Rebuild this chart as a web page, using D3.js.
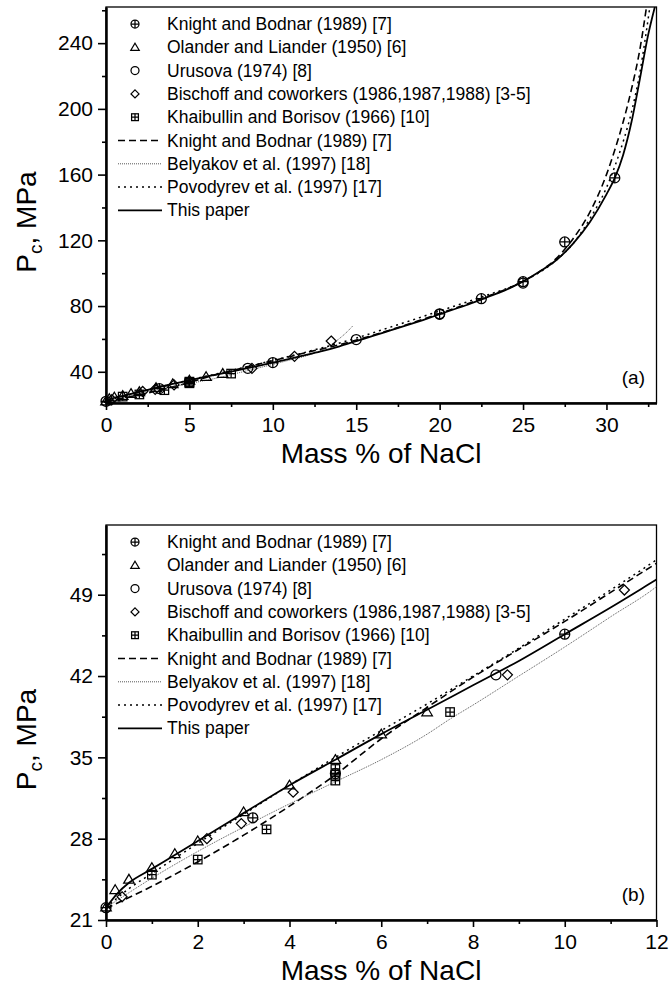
<!DOCTYPE html>
<html>
<head>
<meta charset="utf-8">
<script src="https://cdn.jsdelivr.net/npm/d3@7"></script>
<style>
  body { margin: 0; background: #fff; }
  text { font-family: "Liberation Sans", Arial, sans-serif; fill: #000; }
</style>
</head>
<body>
<div class="chart"></div>
<script>
// ---- measured points: [mass % NaCl, Pc MPa]
var knightPts     = [[0, 22.06], [3.2, 29.8], [5, 33.6], [10, 45.6], [20, 75.3], [22.5, 84.5], [25, 94.8], [27.5, 119], [30.5, 158]];
var olanderPts    = [[0, 22.1], [0.2, 23.6], [0.5, 24.5], [1, 25.5], [1.5, 26.7], [2, 27.8], [3, 30.3], [4, 32.6], [5, 34.8], [6, 37.0], [7, 38.9]];
var urusovaPts    = [[8.5, 42.1], [15, 59.6], [20, 75], [25, 94]];
var bischoffPts   = [[0.35, 23.0], [2.2, 28.0], [2.95, 29.3], [4.08, 32.0], [8.75, 42.1], [11.3, 49.4], [13.5, 58.7]];
var khaibullinPts = [[1, 24.9], [2, 26.2], [3.5, 28.8], [5, 33.0], [5, 33.5], [5, 34.0], [7.5, 38.9]];

// ---- model curves
var knightCurve = [[0, 22.0], [1, 23.9], [2, 26.0], [3, 28.3], [4, 30.8], [5, 33.5], [6, 36.6], [7, 39.3], [8, 41.9], [9, 44.3],
  [10, 46.7], [11, 49.2], [12, 51.7], [14, 56.5], [15, 59.3], [17, 65.3], [20, 75.5], [22.5, 84.5], [25, 95], [26, 101],
  [27, 109], [28, 121], [29, 137], [30, 160], [30.5, 175], [31, 192], [31.5, 212], [32, 236], [32.4, 262]];
var belyakovCurve = [[0, 22.06], [1, 24.6], [2, 26.9], [3, 29.0], [4, 31.0], [5, 32.9], [6, 34.8], [7, 37.0], [7.5, 38.3],
  [8, 39.5], [9, 42.0], [10, 44.5], [11, 47.1], [12, 49.7], [12.5, 51.4], [13, 53.6], [13.5, 56.6], [14, 60.3], [14.5, 64.8], [14.8, 68]];
var povodyrevCurve = [[0, 22.06], [0.5, 23.7], [1, 25.0], [2, 27.6], [3, 30.1], [4, 32.6], [5, 35.0], [6, 37.3], [7, 39.6],
  [8, 42.0], [9, 44.4], [10, 46.9], [11, 49.4], [12, 52.0], [15, 60.5], [17, 67], [20, 77], [22.5, 85.5], [25, 95],
  [27, 108], [28, 118], [29, 133], [30, 152], [30.5, 165], [31, 180], [31.5, 198], [32, 222], [32.6, 262]];
var thisPaperCurve = [[0, 22.06], [0.25, 23.3], [0.5, 24.2], [1, 25.4], [1.5, 26.6], [2, 27.8], [3, 30.2], [4, 32.6], [5, 34.8],
  [6, 37.0], [7, 39.1], [8, 41.2], [9, 43.3], [10, 45.6], [11, 47.9], [12, 50.3], [13, 52.7], [14, 55.5], [15, 58.7],
  [16, 61.8], [17, 65.0], [18, 68.2], [19, 71.5], [20, 75.0], [21, 78.5], [22, 82.0], [23, 86.0], [24, 90.0], [25, 95.0],
  [26, 101], [27, 108], [28, 118], [29, 131], [30, 148], [30.5, 158], [31, 172], [31.5, 192], [32, 218], [32.5, 245], [32.9, 262]];

// ---- ticks
var topXTicks = [0, 5, 10, 15, 20, 25, 30];
var topXMinor = [2.5, 7.5, 12.5, 17.5, 22.5, 27.5, 32.5];
var topYTicks = [40, 80, 120, 160, 200, 240];
var topYMinor = [60, 100, 140, 180, 220, 260];
var botXTicks = [0, 2, 4, 6, 8, 10, 12];
var botXMinor = [1, 3, 5, 7, 9, 11];
var botYTicks = [21, 28, 35, 42, 49];
var botYMinor = [24.5, 31.5, 38.5, 45.5, 52.5];

var legendNames = ["Knight and Bodnar (1989) [7]", "Olander and Liander (1950) [6]", "Urusova (1974) [8]",
  "Bischoff and coworkers (1986,1987,1988) [3-5]", "Khaibullin and Borisov (1966) [10]",
  "Knight and Bodnar (1989) [7]", "Belyakov et al. (1997) [18]", "Povodyrev et al. (1997) [17]", "This paper"];

var pointSets = [
  { pts: knightPts, sym: "cplus" },
  { pts: olanderPts, sym: "tri" },
  { pts: urusovaPts, sym: "circ" },
  { pts: bischoffPts, sym: "diam" },
  { pts: khaibullinPts, sym: "splus" }
];
var curveSets = [
  { pts: knightCurve, dash: "7,4", w: 1.6, col: "#000" },
  { pts: belyakovCurve, dash: "1,1", w: 0.9, col: "#444" },
  { pts: povodyrevCurve, dash: "2,4", w: 1.5, col: "#000" },
  { pts: thisPaperCurve, dash: null, w: 1.8, col: "#000" }
];

var svgWidth = 670, svgHeight = 1000;
var svg = d3.select(".chart").append("svg")
  .attr("width", svgWidth).attr("height", svgHeight);

var panels = [
  { name: "a", top: 7, bottom: 403, xDom: [0, 33], yDom: [21, 262], xt: topXTicks, xm: topXMinor, yt: topYTicks, ym: topYMinor },
  { name: "b", top: 525, bottom: 920, xDom: [0, 12], yDom: [21, 55], xt: botXTicks, xm: botXMinor, yt: botYTicks, ym: botYMinor }
];
var left = 106, right = 656.5;

function drawSymbol(g, type, cx, cy, s) {
  var st = { fill: "none", stroke: "#000", "stroke-width": 1.25 };
  function apply(el) { for (var k in st) el.attr(k, st[k]); return el; }
  if (type === "cplus" || type === "circ") {
    apply(g.append("circle").attr("cx", cx).attr("cy", cy).attr("r", s));
  }
  if (type === "tri") {
    apply(g.append("path").attr("d", "M" + cx + "," + (cy - s) + "L" + (cx + s * 1.05) + "," + (cy + s * 0.75) +
      "L" + (cx - s * 1.05) + "," + (cy + s * 0.75) + "Z"));
  }
  if (type === "diam") {
    apply(g.append("path").attr("d", "M" + cx + "," + (cy - s) + "L" + (cx + s) + "," + cy +
      "L" + cx + "," + (cy + s) + "L" + (cx - s) + "," + cy + "Z"));
  }
  if (type === "splus") {
    var h = s * 0.85;
    apply(g.append("rect").attr("x", cx - h).attr("y", cy - h).attr("width", 2 * h).attr("height", 2 * h));
  }
  if (type === "cplus" || type === "splus") {
    var q = type === "cplus" ? s : s * 0.85;
    apply(g.append("path").attr("d", "M" + (cx - q) + "," + cy + "H" + (cx + q) + "M" + cx + "," + (cy - q) + "V" + (cy + q)));
  }
}

panels.forEach(function(p) {
  var x = d3.scaleLinear().domain(p.xDom).range([left, right]);
  var y = d3.scaleLinear().domain(p.yDom).range([p.bottom, p.top]);
  var g = svg.append("g");

  // frame (top and right)
  g.append("rect").attr("x", left).attr("y", p.top).attr("width", right - left).attr("height", p.bottom - p.top)
    .attr("fill", "none").attr("stroke", "#000").attr("stroke-width", 1.3);

  // clipped curves
  var clipId = "clip-" + p.name;
  svg.append("clipPath").attr("id", clipId).append("rect")
    .attr("x", left).attr("y", p.top).attr("width", right - left).attr("height", p.bottom - p.top);
  var line = d3.line().x(function(d) { return x(d[0]); }).y(function(d) { return y(d[1]); }).curve(d3.curveMonotoneX);
  var cg = g.append("g").attr("clip-path", "url(#" + clipId + ")");
  curveSets.forEach(function(c) {
    cg.append("path").datum(c.pts).attr("d", line)
      .attr("fill", "none").attr("stroke", c.col).attr("stroke-width", c.w)
      .attr("stroke-dasharray", c.dash);
  });

  // points
  pointSets.forEach(function(ps) {
    ps.pts.filter(function(d) { return d[0] <= p.xDom[1]; }).forEach(function(d) {
      drawSymbol(g, ps.sym, x(d[0]), y(d[1]), 5);
    });
  });

  // axes
  g.append("g").attr("transform", "translate(0," + p.bottom + ")")
    .call(d3.axisBottom(x).tickValues(p.xt).tickSize(7).tickSizeOuter(0).tickPadding(7).tickFormat(d3.format("d")));
  g.append("g").attr("transform", "translate(0," + p.bottom + ")")
    .call(d3.axisBottom(x).tickValues(p.xm).tickSize(4).tickSizeOuter(0).tickFormat(""));
  g.append("g").attr("transform", "translate(" + left + ",0)")
    .call(d3.axisLeft(y).tickValues(p.yt).tickSize(8).tickSizeOuter(0).tickPadding(5).tickFormat(d3.format("d")));
  g.append("g").attr("transform", "translate(" + left + ",0)")
    .call(d3.axisLeft(y).tickValues(p.ym).tickSize(4).tickSizeOuter(0).tickFormat(""));
  g.selectAll(".domain").attr("stroke-width", 2);
  g.selectAll(".tick line").attr("stroke-width", 1.6);
  g.selectAll(".tick text").attr("font-size", 21).attr("font-family", "Liberation Sans, Arial, sans-serif");

  // axis titles
  var yt = g.append("text")
    .attr("transform", "translate(36," + ((p.top + p.bottom) / 2 + 17) + ") rotate(-90)")
    .attr("text-anchor", "middle").attr("font-size", 28);
  yt.append("tspan").text("P");
  yt.append("tspan").attr("font-size", 19).attr("dy", 6).text("c");
  yt.append("tspan").attr("dy", -6).text(", MPa");

  g.append("text").attr("x", 381).attr("y", p.bottom + 60)
    .attr("text-anchor", "middle").attr("font-size", 28).text("Mass % of NaCl");

  g.append("text").attr("x", 645).attr("y", p.bottom - 19)
    .attr("text-anchor", "end").attr("font-size", 19).text("(" + p.name + ")");

  // legend
  var lg = g.append("g");
  legendNames.forEach(function(name, i) {
    var cy = p.top + 17 + i * 23.3;
    if (i < 5) {
      drawSymbol(lg, pointSets[i].sym, 135, cy, 4);
    } else {
      var c = curveSets[i - 5];
      lg.append("line").attr("x1", 118).attr("x2", 162).attr("y1", cy).attr("y2", cy)
        .attr("stroke", c.col).attr("stroke-width", c.w).attr("stroke-dasharray", c.dash);
    }
    lg.append("text").attr("x", 167).attr("y", cy + 6).attr("font-size", 17.5).text(name);
  });
});
</script>
</body>
</html>
